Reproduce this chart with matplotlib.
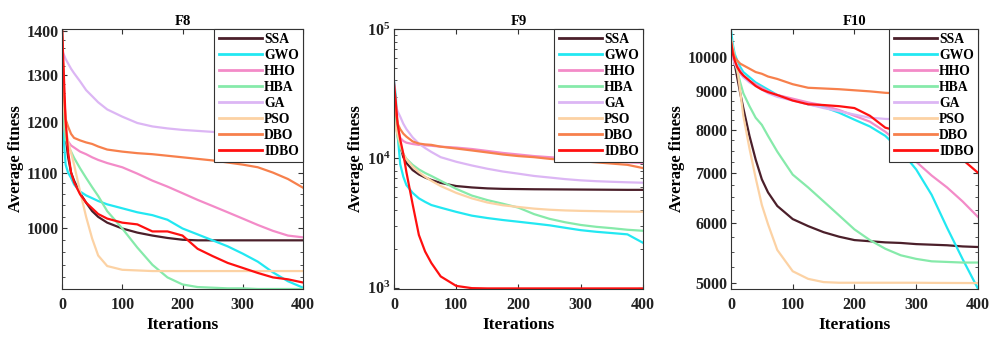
import numpy as np
import matplotlib
matplotlib.use("Agg")
import matplotlib.pyplot as plt
from matplotlib.ticker import FixedLocator, NullFormatter, LogLocator, FuncFormatter

plt.rcParams['font.family'] = ['Liberation Serif', 'DejaVu Serif']
plt.rcParams['font.weight'] = 'bold'
plt.rcParams['mathtext.fontset'] = 'custom'
plt.rcParams['mathtext.rm'] = 'Liberation Serif:bold'
plt.rcParams['mathtext.bf'] = 'Liberation Serif:bold'

# ======================================
# DATA
# ======================================

iters = [0, 3, 6, 10, 15, 20, 30, 40, 50, 60, 75, 100, 125, 150, 175, 200,
         225, 250, 275, 300, 325, 350, 375, 400]

algos = ['SSA', 'GWO', 'HHO', 'HBA', 'GA', 'PSO', 'DBO', 'IDBO']
colors = ['#4b1f2a', '#22e8f2', '#f38bc8', '#86eaaa', '#dcb6f4', '#fcd2a4',
          '#f7804c', '#ff1010']

f8_ssa = [1400, 1250, 1170, 1130, 1100, 1085, 1062, 1045, 1030, 1020, 1010, 1000,
          993, 988, 984, 981, 980, 980, 980, 980, 980, 980, 980, 980]
f8_gwo = [1300, 1160, 1115, 1100, 1090, 1078, 1065, 1058, 1053, 1048, 1042, 1035,
          1028, 1023, 1015, 1000, 990, 980, 970, 958, 945, 928, 914, 904]
f8_hho = [1250, 1190, 1170, 1160, 1152, 1148, 1140, 1135, 1129, 1124, 1118, 1110,
          1098, 1085, 1074, 1062, 1050, 1039, 1028, 1017, 1006, 996, 988, 985]
f8_hba = [1300, 1200, 1165, 1150, 1140, 1128, 1108, 1090, 1073, 1057, 1030, 1000,
          968, 940, 920, 909, 905, 904, 903, 903, 902, 902, 902, 902]
f8_ga = [1355, 1345, 1335, 1325, 1313, 1303, 1285, 1266, 1253, 1240, 1225, 1210,
         1197, 1190, 1186, 1183, 1181, 1179, 1177, 1175, 1173, 1172, 1170, 1170]
f8_pso = [1280, 1230, 1190, 1160, 1138, 1115, 1065, 1020, 983, 955, 938, 932,
          931, 930, 930, 930, 930, 930, 930, 930, 930, 930, 930, 930]
f8_dbo = [1400, 1260, 1205, 1190, 1175, 1167, 1162, 1158, 1155, 1150, 1144, 1140,
          1137, 1135, 1132, 1129, 1126, 1123, 1119, 1115, 1110, 1100, 1088, 1072]
f8_idbo = [1410, 1300, 1200, 1140, 1100, 1082, 1060, 1045, 1035, 1025, 1017, 1010,
           1007, 995, 995, 988, 966, 954, 943, 935, 927, 920, 917, 912]

f9_ssa = [30000, 22000, 16000, 12500, 10200, 9200, 8100, 7500, 7100, 6800, 6450, 6100,
          5950, 5850, 5800, 5780, 5760, 5750, 5740, 5730, 5720, 5710, 5700, 5700]
f9_gwo = [40000, 30000, 15000, 9000, 7200, 6200, 5400, 4900, 4600, 4350, 4150, 3850,
          3600, 3450, 3330, 3230, 3130, 3030, 2900, 2780, 2700, 2640, 2580, 2220]
f9_hho = [40000, 25000, 17000, 14400, 13600, 13200, 12900, 12700, 12600, 12500, 12300, 12100,
          11800, 11400, 11000, 10700, 10400, 10200, 10000, 9800, 9600, 9450, 9300, 9200]
f9_hba = [23000, 18000, 14500, 12200, 10800, 9900, 8900, 8200, 7700, 7300, 6700, 5800,
          5150, 4750, 4450, 4150, 3700, 3400, 3200, 3050, 2950, 2880, 2800, 2750]
f9_ga = [28000, 25500, 23000, 21000, 18500, 16800, 14500, 13000, 12000, 11200, 10200, 9400,
         8800, 8300, 7900, 7600, 7300, 7100, 6900, 6750, 6650, 6580, 6520, 6470]
f9_pso = [20000, 17000, 15200, 13000, 10800, 9800, 8600, 7800, 7200, 6700, 6100, 5400,
          4900, 4550, 4330, 4200, 4080, 4000, 3950, 3920, 3900, 3880, 3870, 3860]
f9_dbo = [30000, 22000, 18500, 16800, 15500, 14700, 13500, 13000, 12800, 12700, 12300, 11900,
          11500, 11100, 10700, 10400, 10200, 9900, 9700, 9500, 9300, 9100, 8900, 8400]
f9_idbo = [38000, 27000, 18100, 14000, 10800, 7800, 4400, 2550, 1900, 1550, 1220, 1030,
           990, 985, 985, 985, 985, 985, 985, 985, 985, 985, 985, 985]

f10_ssa = [10480, 10100, 9800, 9400, 8950, 8550, 7850, 7300, 6870, 6600, 6330, 6080,
           5950, 5840, 5760, 5700, 5680, 5660, 5650, 5630, 5620, 5610, 5590, 5580]
f10_gwo = [10860, 10400, 10100, 9900, 9700, 9550, 9400, 9250, 9150, 9050, 8900, 8770,
           8650, 8580, 8430, 8250, 8080, 7850, 7500, 7080, 6550, 5920, 5380, 4910]
f10_hho = [10400, 10100, 9900, 9750, 9600, 9450, 9300, 9200, 9100, 9000, 8900, 8800,
           8700, 8620, 8500, 8350, 8200, 7950, 7650, 7250, 6950, 6700, 6420, 6120]
f10_hba = [10400, 10100, 9900, 9600, 9250, 8950, 8600, 8300, 8120, 7850, 7480, 6970,
           6700, 6420, 6150, 5890, 5700, 5550, 5440, 5380, 5340, 5330, 5320, 5320]
f10_ga = [10300, 10000, 9800, 9650, 9500, 9400, 9250, 9150, 9050, 8950, 8850, 8750,
          8650, 8550, 8470, 8380, 8300, 8270, 8260, 8250, 8220, 8200, 8180, 8150]
f10_pso = [10600, 10300, 10000, 9700, 9000, 8350, 7550, 6900, 6350, 5985, 5530, 5180,
           5060, 5010, 5000, 5000, 5000, 5000, 5000, 5000, 4998, 4997, 4996, 4995]
f10_dbo = [10500, 10200, 10000, 9900, 9800, 9750, 9650, 9550, 9500, 9420, 9350, 9200,
           9100, 9080, 9060, 9030, 9000, 8960, 8940, 8920, 8900, 8880, 8860, 8850]
f10_idbo = [10500, 10100, 9900, 9700, 9550, 9450, 9300, 9150, 9050, 8980, 8900, 8750,
            8650, 8630, 8600, 8550, 8350, 8050, 7950, 7850, 7700, 7500, 7300, 7010]

f8_yticks = [1000, 1100, 1200, 1300, 1400]
f10_yticks = [5000, 6000, 7000, 8000, 9000, 10000]
xticks = [0, 100, 200, 300, 400]

panels = [
    ('F8', [f8_ssa, f8_gwo, f8_hho, f8_hba, f8_ga, f8_pso, f8_dbo, f8_idbo], (902, 1405)),
    ('F9', [f9_ssa, f9_gwo, f9_hho, f9_hba, f9_ga, f9_pso, f9_dbo, f9_idbo], (975, 1e5)),
    ('F10', [f10_ssa, f10_gwo, f10_hho, f10_hba, f10_ga, f10_pso, f10_dbo, f10_idbo], (4905, 10900)),
]

# ======================================
# PLOT
# ======================================

fig = plt.figure(figsize=(10.02, 3.52), dpi=100)
lefts = [0.0619, 0.3932, 0.7295]
widths = [0.2405, 0.2485, 0.2465]
edge = '#333333'

for k, (name, series, ylim) in enumerate(panels):
    ax = fig.add_axes([lefts[k], 0.179, widths[k], 0.7386])
    for vals, lab, col in zip(series, algos, colors):
        ax.plot(iters, vals, color=col, lw=1.6, label=lab)
    ax.set_yscale('log')
    ax.set_xlim(0, 400)
    ax.set_ylim(*ylim)
    ax.set_xticks(xticks)
    if name == 'F8':
        ax.yaxis.set_major_locator(FixedLocator(f8_yticks))
        ax.yaxis.set_major_formatter(FuncFormatter(lambda v, p: f'{v:.0f}'))
        ax.yaxis.set_minor_locator(FixedLocator(np.arange(920, 1400, 20)))
        ax.yaxis.set_minor_formatter(NullFormatter())
    elif name == 'F10':
        ax.yaxis.set_major_locator(FixedLocator(f10_yticks))
        ax.yaxis.set_major_formatter(FuncFormatter(lambda v, p: f'{v:.0f}'))
        ax.yaxis.set_minor_locator(FixedLocator(np.arange(5000, 10800, 250)))
        ax.yaxis.set_minor_formatter(NullFormatter())
    else:
        ax.yaxis.set_major_locator(LogLocator(base=10, numticks=10))
        ax.yaxis.set_minor_locator(LogLocator(base=10, subs=np.arange(2, 10), numticks=10))
        ax.yaxis.set_minor_formatter(NullFormatter())
    ax.tick_params(which='both', direction='in', top=True, right=True,
                   labelsize=11.5, colors=edge, labelcolor='#222222')
    ax.tick_params(which='major', length=3.5)
    ax.tick_params(which='minor', length=2)
    ax.tick_params(axis='x', pad=5.5)
    ax.tick_params(axis='y', pad=2.5)
    for s in ax.spines.values():
        s.set_color(edge)
        s.set_linewidth(0.8)
    ax.set_title(name, fontsize=10.5, fontweight='bold', pad=3)
    ax.set_xlabel('Iterations', fontsize=12.5, fontweight='bold', labelpad=3)
    ax.set_ylabel('Average fitness', fontsize=12, fontweight='bold', labelpad=2)
    leg = ax.legend(loc='upper right', borderaxespad=0, fancybox=False,
                    framealpha=1, edgecolor=edge, fontsize=9.8, handlelength=3.2,
                    labelspacing=0.22, handletextpad=0.15, borderpad=0.3)
    leg.get_frame().set_linewidth(0.8)
    for line in leg.get_lines():
        line.set_linewidth(2)

fig.savefig('out.png', dpi=100)
